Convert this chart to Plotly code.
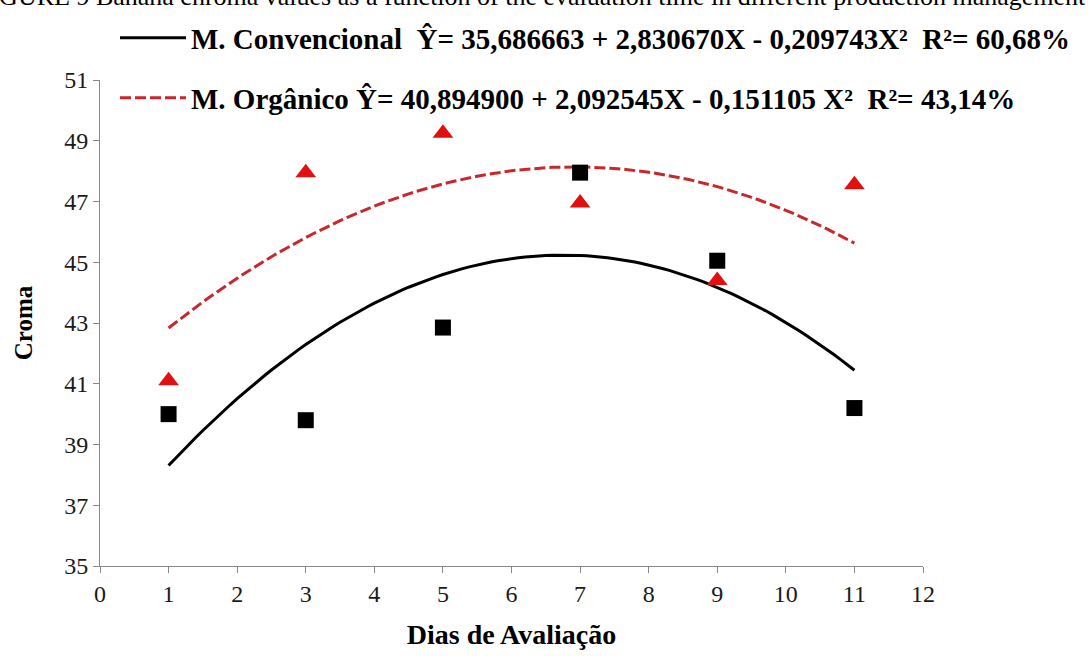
import numpy as np
import plotly.graph_objects as go

dias = [1, 3, 5, 7, 9, 11]
conv_obs = [40.0, 39.8, 42.85, 47.95, 45.05, 40.2]
org_obs = [41.1, 47.95, 49.25, 46.95, 44.4, 47.55]

# Regression coefficients stated in the legend (b0, b1, b2)
conv_coef = [35.686663, 2.830670, -0.209743]
org_coef = [40.894900, 2.092545, -0.151105]

NB = "\u00a0"
conv_label = ("<b>M. Convencional" + NB * 2 + "Ŷ= 35,686663 + 2,830670X - 0,209743X²"
              + NB * 2 + "R²= 60,68%</b>")
org_label = ("<b>M. Orgânico Ŷ= 40,894900 + 2,092545X - 0,151105 X²" + NB * 2
             + "R²= 43,14%</b>")
title_text = ("FIGURE 9 Banana chroma values as a function of the evaluation time "
              "in different production management")

x_ticks = list(range(0, 13))
y_ticks = list(range(35, 52, 2))

xs = np.linspace(min(dias), max(dias), 101)
conv_fit = conv_coef[0] + conv_coef[1] * xs + conv_coef[2] * xs ** 2
org_fit = org_coef[0] + org_coef[1] * xs + org_coef[2] * xs ** 2

RED = "#e01010"
DRED = "#c8282c"
SERIF = "Liberation Serif, Times New Roman, serif"

fig = go.Figure()
fig.add_trace(go.Scatter(x=xs, y=conv_fit, mode="lines", name=conv_label,
                         line=dict(color="black", width=3), legend="legend"))
fig.add_trace(go.Scatter(x=xs, y=org_fit, mode="lines", name=org_label,
                         line=dict(color=DRED, width=3, dash="11px,4px"), legend="legend2"))
fig.add_trace(go.Scatter(x=dias, y=conv_obs, mode="markers", showlegend=False,
                         marker=dict(symbol="square", size=16, color="black")))
fig.add_trace(go.Scatter(x=dias, y=org_obs, mode="markers", showlegend=False,
                         marker=dict(symbol="triangle-up", size=18, color=RED)))

fig.update_layout(
    width=1088, height=656,
    margin=dict(l=100, r=165, t=80, b=90),
    paper_bgcolor="white", plot_bgcolor="white",
    font=dict(family=SERIF, size=24, color="#1a1a1a"),
    legend=dict(x=0.0182, xanchor="left", y=1.0864, yanchor="middle",
                font=dict(family=SERIF, size=29, color="black"),
                bgcolor="rgba(0,0,0,0)", itemwidth=66),
    legend2=dict(x=0.0182, xanchor="left", y=0.963, yanchor="middle",
                 font=dict(family=SERIF, size=29, color="black"),
                 bgcolor="rgba(0,0,0,0)", itemwidth=66),
    annotations=[dict(text=title_text, xref="paper", yref="paper",
                      x=-0.153, y=1.138, xanchor="left", yanchor="bottom",
                      showarrow=False, font=dict(family=SERIF, size=26, color="black"))],
)
fig.update_xaxes(range=[0, 12], tickvals=x_ticks, ticks="outside", ticklen=6,
                 tickcolor="#888", showline=True, linecolor="#888", linewidth=1,
                 showgrid=False, zeroline=False,
                 title=dict(text="<b>Dias de Avaliação</b>", standoff=18,
                            font=dict(family=SERIF, size=28, color="black")))
fig.update_yaxes(range=[35, 51], tickvals=y_ticks, ticks="outside", ticklen=6,
                 tickcolor="#888", showline=True, linecolor="#888", linewidth=1,
                 showgrid=False, zeroline=False,
                 title=dict(text="<b>Croma</b>", standoff=24,
                            font=dict(family=SERIF, size=25, color="black")))

fig.write_html("out.html")
